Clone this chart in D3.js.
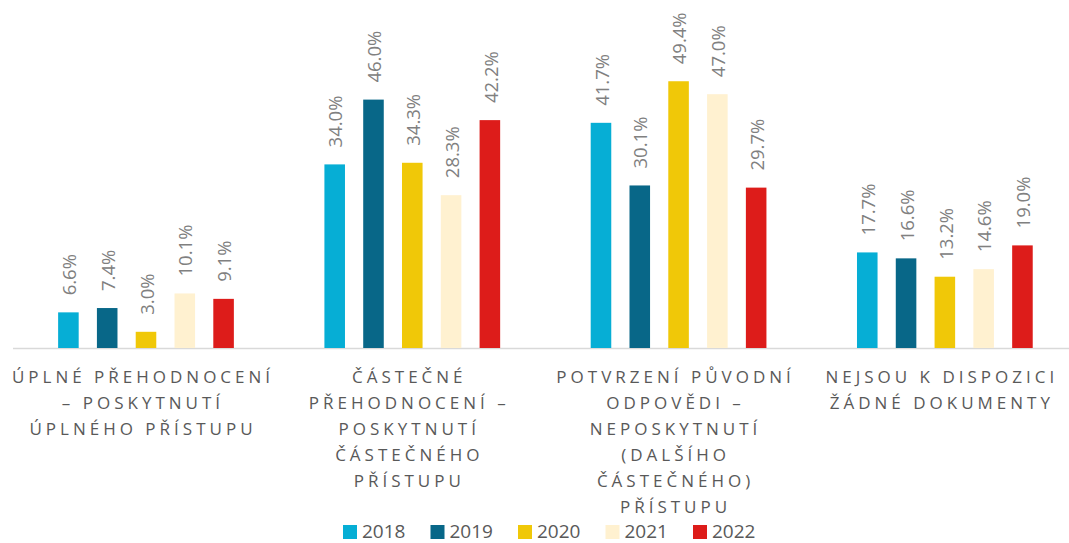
<!DOCTYPE html>
<html>
<head>
<meta charset="utf-8">
<script src="https://cdn.jsdelivr.net/npm/d3@7"></script>
<style>
  body { margin: 0; background: #fff; }
  svg { display: block; font-family: "Open Sans", sans-serif; }
</style>
</head>
<body>
<div class="content"></div>
<script>
var categories = [
  "ÚPLNÉ PŘEHODNOCENÍ\n– POSKYTNUTÍ\nÚPLNÉHO PŘÍSTUPU",
  "ČÁSTEČNÉ\nPŘEHODNOCENÍ –\nPOSKYTNUTÍ\nČÁSTEČNÉHO\nPŘÍSTUPU",
  "POTVRZENÍ PŮVODNÍ\nODPOVĚDI –\nNEPOSKYTNUTÍ\n(DALŠÍHO\nČÁSTEČNÉHO)\nPŘÍSTUPU",
  "NEJSOU K DISPOZICI\nŽÁDNÉ DOKUMENTY"
];
var years = ["2018", "2019", "2020", "2021", "2022"];
var v2018 = [6.6, 34.0, 41.7, 17.7];
var v2019 = [7.4, 46.0, 30.1, 16.6];
var v2020 = [3.0, 34.3, 49.4, 13.2];
var v2021 = [10.1, 28.3, 47.0, 14.6];
var v2022 = [9.1, 42.2, 29.7, 19.0];
var colors = ["#06aed5", "#086788", "#f0c808", "#fff1d0", "#dd1c1a"];

function render() {
  var width = 1069, height = 543;
  var series = [v2018, v2019, v2020, v2021, v2022];

  var svg = d3.select(".content").append("svg")
      .attr("width", width)
      .attr("height", height);

  var x0 = d3.scaleBand().domain(categories).range([12.85, 1078]);
  var x1 = d3.scaleBand().domain(years)
      .range([0, x0.bandwidth()])
      .paddingInner(0.47)
      .paddingOuter(1.167);
  var y = d3.scaleLinear().domain([0, 50]).range([348, 78]);
  var color = d3.scaleOrdinal().domain(years).range(colors);

  var rows = [];
  categories.forEach(function(c, i) {
    years.forEach(function(yr, j) {
      rows.push({cat: c, year: yr, value: series[j][i]});
    });
  });

  // axis line
  svg.append("line")
      .attr("x1", 13).attr("x2", width)
      .attr("y1", y(0) + 0.5).attr("y2", y(0) + 0.5)
      .attr("stroke", "#d9d9d9")
      .attr("stroke-width", 1.5);

  svg.append("g").selectAll("rect")
      .data(rows)
    .enter().append("rect")
      .attr("x", function(d) { return x0(d.cat) + x1(d.year); })
      .attr("y", function(d) { return y(d.value); })
      .attr("width", x1.bandwidth())
      .attr("height", function(d) { return y(0) - y(d.value); })
      .attr("fill", function(d) { return color(d.year); });

  svg.append("g").selectAll("text")
      .data(rows)
    .enter().append("text")
      .attr("transform", function(d) {
        var cx = x0(d.cat) + x1(d.year) + x1.bandwidth() / 2 + 1;
        return "translate(" + cx + "," + (y(d.value) - 17) + ") rotate(-90)";
      })
      .attr("dy", "0.36em")
      .attr("fill", "#808080")
      .style("font-size", "18.5px")
      .text(function(d) { return d.value.toFixed(1) + "%"; });

  // category labels
  var lab = svg.append("g").selectAll("text")
      .data(categories)
    .enter().append("text")
      .attr("text-anchor", "middle")
      .attr("fill", "#595959")
      .style("font-size", "17px")
      .style("letter-spacing", "4px");
  lab.each(function(c) {
    var t = d3.select(this);
    c.split("\n").forEach(function(line, k) {
      t.append("tspan")
          .attr("x", x0(c) + x0.bandwidth() / 2 - 3)
          .attr("y", 383 + k * 26)
          .text(line);
    });
  });

  // legend
  var leg = svg.append("g").selectAll("g")
      .data(years)
    .enter().append("g")
      .attr("transform", function(d, i) { return "translate(" + (343 + i * 87.5) + ",525)"; });
  leg.append("rect")
      .attr("width", 14).attr("height", 14)
      .attr("fill", function(d) { return color(d); });
  leg.append("text")
      .attr("x", 19).attr("y", 13)
      .attr("fill", "#595959")
      .style("font-size", "19px")
      .text(function(d) { return d; });
}
render();
</script>
</body>
</html>
